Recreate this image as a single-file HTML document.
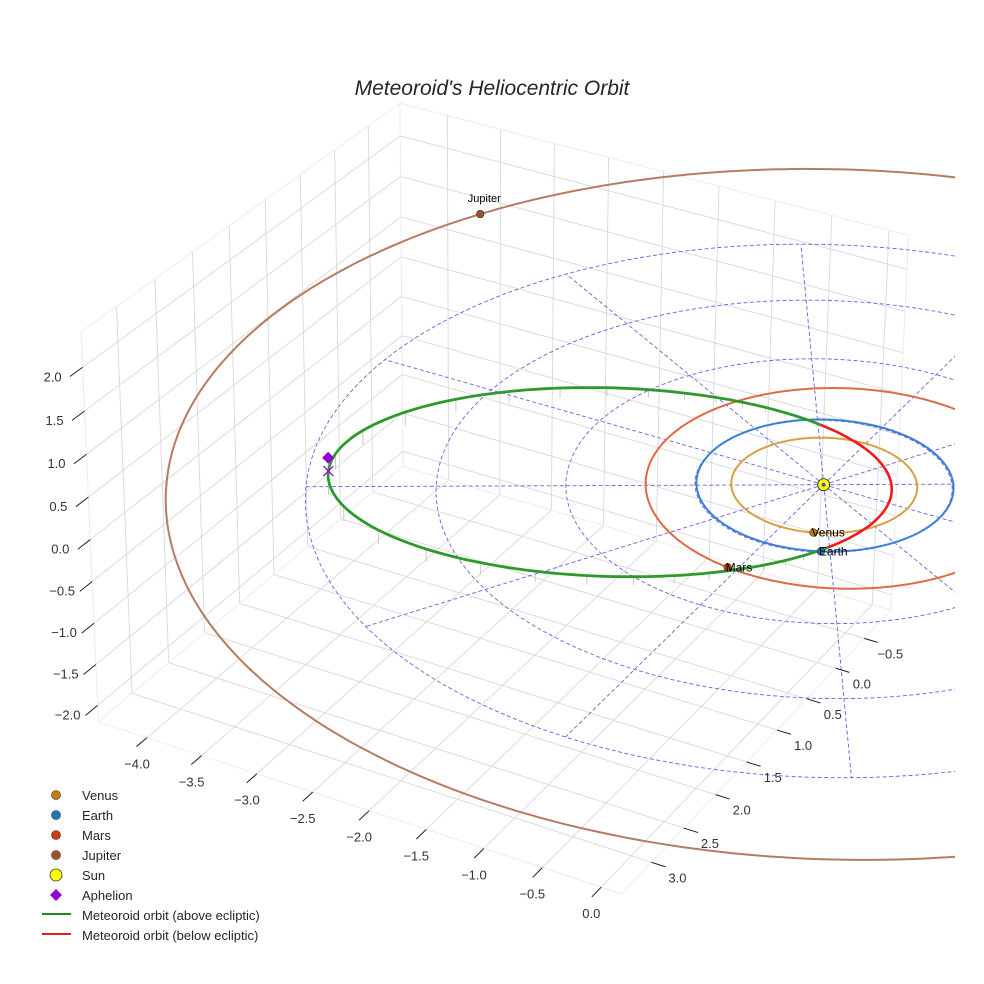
<!DOCTYPE html>
<html><head><meta charset="utf-8"><style>
html,body{margin:0;padding:0;background:#fff;}
svg{display:block;font-family:"Liberation Sans",Arial,sans-serif;}
</style></head><body>
<svg id="chart" width="984" height="984" viewBox="0 0 984 984" xmlns="http://www.w3.org/2000/svg">
<defs><clipPath id="clipR"><rect x="0" y="0" width="955" height="984"/></clipPath></defs>
<rect x="0" y="0" width="984" height="984" fill="#fff"/>
<text x="492" y="95" text-anchor="middle" font-size="21" font-style="italic" fill="#262626">Meteoroid's Heliocentric Orbit</text>
<g id="grid"></g>
<g id="ecl" clip-path="url(#clipR)"></g>
<g id="orbits" clip-path="url(#clipR)"></g>
<g id="marks"></g>
<g id="ticks"></g>
<g id="legend">
  <circle cx="56" cy="795" r="4.5" fill="#c27c0e" stroke="#333" stroke-width="0.6"/>
  <text x="82" y="800" font-size="13" fill="#262626">Venus</text>
  <circle cx="56" cy="815" r="4.5" fill="#1f77b4" stroke="#333" stroke-width="0.6"/>
  <text x="82" y="820" font-size="13" fill="#262626">Earth</text>
  <circle cx="56" cy="835" r="4.5" fill="#c8400e" stroke="#333" stroke-width="0.6"/>
  <text x="82" y="840" font-size="13" fill="#262626">Mars</text>
  <circle cx="56" cy="855" r="4.5" fill="#a0522d" stroke="#333" stroke-width="0.6"/>
  <text x="82" y="860" font-size="13" fill="#262626">Jupiter</text>
  <circle cx="56" cy="875" r="6" fill="#ffff00" stroke="#333" stroke-width="0.8"/>
  <text x="82" y="880" font-size="13" fill="#262626">Sun</text>
  <path d="M56 889 L62 895 L56 901 L50 895 Z" fill="#9400d3"/>
  <text x="82" y="900" font-size="13" fill="#262626">Aphelion</text>
  <line x1="42" y1="914" x2="71" y2="914" stroke="#1a8a1a" stroke-width="2"/>
  <text x="82" y="920" font-size="13" fill="#262626">Meteoroid orbit (above ecliptic)</text>
  <line x1="42" y1="934" x2="71" y2="934" stroke="#e02020" stroke-width="2"/>
  <text x="82" y="940" font-size="13" fill="#262626">Meteoroid orbit (below ecliptic)</text>
</g>
</svg>
<script>
// ---- data ----
const orbitNames = ['Venus','Earth','Mars','Jupiter'];
const orbitA = [0.723, 1.0, 1.524, 5.203];
const orbitE = [0.007, 0.017, 0.093, 0.048];
const orbitPeri = [131, 103, 150, 90];
const planetAngle = [69, 64, 93, 209];
const metA = 2.18;
const metE = 0.757;
const metPeri = -29;
const metInc = 2.0;
const xTicks = [-4.0,-3.5,-3.0,-2.5,-2.0,-1.5,-1.0,-0.5,0.0];
const yTicks = [-0.5,0.0,0.5,1.0,1.5,2.0,2.5,3.0];
const zTicks = [-2.0,-1.5,-1.0,-0.5,0.0,0.5,1.0,1.5,2.0];
const eclRadii = [1,2,3,4];
const eclSpokes = [0,30,60,90,120,150,180,210,240,270,300,330];
const X0=-4.45,X1=0.17,Y0=-0.98,Y1=3.45,Z0=-2.2,Z1=2.4;

// ---- camera fit (calibration) ----
const calib = [
 [X0,Y1,Z0,99,726],[X1,Y1,Z0,618,895],[X1,Y0,Z0,895,613],[X0,Y1,Z1,81,335],
 [X0,Y0,Z1,400,102],[X1,Y0,Z1,912,230],[X0,Y0,Z0,405,455],
 [0,0,0,822,487],[-3.464,2,0,307,487],[0.866,-0.5,0,952,487],[-0.866,0.5,0,692,487],
 [2,3.464,0,853,770],[-2,-3.464,0,797,250],[-1.732,1,0,565,487]
];
function fit(){
  const rows=[],rhs=[];
  calib.forEach(c=>{const [X,Y,Z]=c;const u=(c[3]-492)/492,v=(c[4]-492)/492;
    rows.push([X,Y,Z,1,0,0,0,0,-u*X,-u*Y,-u*Z]);rhs.push(u);
    rows.push([0,0,0,0,X,Y,Z,1,-v*X,-v*Y,-v*Z]);rhs.push(v);});
  const n=11,M=[];
  for(let i=0;i<n;i++){M.push(new Array(n+1).fill(0));
    for(let j=0;j<n;j++){let s=0;rows.forEach(r=>s+=r[i]*r[j]);M[i][j]=s;}
    let s=0;rows.forEach((r,k)=>s+=r[i]*rhs[k]);M[i][n]=s;}
  for(let i=0;i<n;i++){let p=i;for(let k=i+1;k<n;k++)if(Math.abs(M[k][i])>Math.abs(M[p][i]))p=k;
    [M[i],M[p]]=[M[p],M[i]];
    for(let k=0;k<n;k++){if(k===i)continue;const f=M[k][i]/M[i][i];for(let j=i;j<=n;j++)M[k][j]-=f*M[i][j];}}
  return M.map((r,i)=>r[n]/r[i]);
}
const P=fit();
function proj(x,y,z){const w=P[8]*x+P[9]*y+P[10]*z+1;
  return [ (P[0]*x+P[1]*y+P[2]*z+P[3])/w*492+492, (P[4]*x+P[5]*y+P[6]*z+P[7])/w*492+492 ];}

const NS='http://www.w3.org/2000/svg';
function mk(tag,parent,attrs){const e=document.createElementNS(NS,tag);for(const k in attrs)e.setAttribute(k,attrs[k]);parent.appendChild(e);return e;}
function pathOf(pts){return pts.map((p,i)=>(i?'L':'M')+p[0].toFixed(1)+' '+p[1].toFixed(1)).join('');}
function line3(g,a,b,attrs){const p=proj(...a),q=proj(...b);return mk('line',g,Object.assign({x1:p[0],y1:p[1],x2:q[0],y2:q[1]},attrs));}

// ---- box grid ----
const grid=document.getElementById('grid');
const gs={stroke:'#d8d8d8','stroke-width':0.9};
const es={stroke:'#ececec','stroke-width':1};
let e;
xTicks.forEach(x=>{
  e=line3(grid,[x,Y0,Z0],[x,Y1,Z0],gs);
  
  
  e=line3(grid,[x,Y0,Z0],[x,Y0,Z1],gs);
  
  
});
yTicks.forEach(y=>{
  e=line3(grid,[X0,y,Z0],[X1,y,Z0],gs);
  
  
  e=line3(grid,[X0,y,Z0],[X0,y,Z1],gs);
  
  
});
zTicks.forEach(z=>{
  e=line3(grid,[X0,Y1,z],[X0,Y0,z],gs);
  
  
  e=line3(grid,[X0,Y0,z],[X1,Y0,z],gs);
  
  
});
[[[X0,Y1,Z0],[X0,Y1,Z1]],[[X0,Y0,Z0],[X0,Y0,Z1]],[[X1,Y0,Z0],[X1,Y0,Z1]],[[X0,Y1,Z1],[X0,Y0,Z1]],[[X0,Y0,Z1],[X1,Y0,Z1]],
 [[X0,Y1,Z0],[X1,Y1,Z0]],[[X1,Y1,Z0],[X1,Y0,Z0]],[[X0,Y0,Z0],[X0,Y1,Z0]],[[X0,Y0,Z0],[X1,Y0,Z0]]].forEach(s=>{
  e=line3(grid,s[0],s[1],es);
  
  
});

// ---- ecliptic polar grid ----
const ecl=document.getElementById('ecl');
const ds={fill:'none',stroke:'#6464e0','stroke-width':0.9,'stroke-dasharray':'4 2.5'};
eclRadii.forEach(r=>{const pts=[];for(let t=0;t<=360;t+=2){const a=t*Math.PI/180;pts.push(proj(r*Math.cos(a),r*Math.sin(a),0));}
  e=mk('path',ecl,Object.assign({d:pathOf(pts)},ds));
  
  });
const rMax=eclRadii[eclRadii.length-1];
eclSpokes.forEach(d=>{const a=d*Math.PI/180;
  e=line3(ecl,[0,0,0],[rMax*Math.cos(a),rMax*Math.sin(a),0],ds);
  
  });

// ---- orbits ----
const orbG=document.getElementById('orbits');
const orbColors=['#d8a040','#3a80d4','#e06a44','#b57c60'];
function conic(a,ec,peri,nu){const r=a*(1-ec*ec)/(1+ec*Math.cos(nu));const t=nu+peri*Math.PI/180;return [r*Math.cos(t),r*Math.sin(t),r];}
orbitNames.forEach((nm,i)=>{const pts=[];for(let t=0;t<=360;t+=1){const c=conic(orbitA[i],orbitE[i],orbitPeri[i],t*Math.PI/180);pts.push(proj(c[0],c[1],0));}
  e=mk('path',orbG,{d:pathOf(pts),fill:'none',stroke:orbColors[i],'stroke-width':2});
  
  });
// meteoroid
const inc=metInc*Math.PI/180;
function met(nu){const c=conic(metA,metE,metPeri,nu);return [c[0],c[1],-c[2]*Math.sin(inc)*Math.cos(nu)];}
const green=[],red=[];
for(let t=90;t<=270;t+=1)green.push(proj(...met(t*Math.PI/180)));
for(let t=-90;t<=90;t+=1)red.push(proj(...met(t*Math.PI/180)));
// drop lines
for(let t=100;t<=260;t+=6){const m=met(t*Math.PI/180);const p=proj(...m),q=proj(m[0],m[1],0);
  e=mk('line',orbG,{x1:p[0],y1:p[1],x2:q[0],y2:q[1]+4,stroke:'#bcbcbc','stroke-width':0.8});
  
  }
e=mk('path',orbG,{d:pathOf(green),fill:'none',stroke:'#2e9a2e','stroke-width':2.8});


e=mk('path',orbG,{d:pathOf(red),fill:'none',stroke:'#ee1c1c','stroke-width':2.6});



// ---- markers ----
const mg=document.getElementById('marks');
const pColors=['#c27c0e','#1f77b4','#c8400e','#a0522d'];
orbitNames.forEach((nm,i)=>{const nu=(planetAngle[i]-orbitPeri[i])*Math.PI/180;const c=conic(orbitA[i],orbitE[i],orbitPeri[i],nu);const p=proj(c[0],c[1],0);
  e=mk('circle',mg,{cx:p[0],cy:p[1],r:3.8,fill:pColors[i],stroke:'#333','stroke-width':0.6});
  
  
  const t=mk('text',mg,nm==='Jupiter'?{x:p[0]+4,y:p[1]-12,'text-anchor':'middle','font-size':11,fill:'#000'}:{x:p[0]-2,y:p[1]+4,'font-size':12,fill:'#000'});
  t.textContent=nm;
  
  });
const sp=proj(0,0,0);
e=mk('circle',mg,{cx:sp[0],cy:sp[1],r:6,fill:'#ffff00',stroke:'#222','stroke-width':0.9});


e=mk('circle',mg,{cx:sp[0],cy:sp[1],r:2,fill:'#5050c0'});


const ap=met(Math.PI);const apP=proj(ap[0],ap[1],ap[2]);const apD=proj(ap[0],ap[1],ap[2]+0.16);
e=mk('path',mg,{d:`M${apD[0]} ${apD[1]-6}L${apD[0]+6} ${apD[1]}L${apD[0]} ${apD[1]+6}L${apD[0]-6} ${apD[1]}Z`,fill:'#9400d3'});


e=mk('path',mg,{d:`M${apP[0]-5} ${apP[1]-5}L${apP[0]+5} ${apP[1]+5}M${apP[0]+5} ${apP[1]-5}L${apP[0]-5} ${apP[1]+5}`,stroke:'#9400d3','stroke-width':1.2,fill:'none'});



// ---- ticks ----
const tg=document.getElementById('ticks');
function fmt(v){return (v<0?'\u2212':'')+Math.abs(v).toFixed(1);}
function tick(a,b,lab,dx,dy,name){const p=proj(...a),q=proj(...b);
  e=mk('line',tg,{x1:p[0],y1:p[1],x2:q[0],y2:q[1],stroke:'#222','stroke-width':1});
  
  
  const t=mk('text',tg,{x:p[0]+dx,y:p[1]+dy,'text-anchor':'middle','font-size':13,fill:'#333'});
  t.textContent=lab;
  
  }
xTicks.forEach(x=>tick([x,Y1,Z0],[x,Y1+0.14,Z0],fmt(x),-10,31,'x-axis'));
yTicks.forEach(y=>tick([X1,y,Z0],[X1+0.12,y,Z0],fmt(y),26,20,'y-axis'));
zTicks.forEach(z=>tick([X0,Y1,z],[X0,Y1+0.16,z],fmt(z),-30,14,'z-axis'));
</script>
</body></html>
